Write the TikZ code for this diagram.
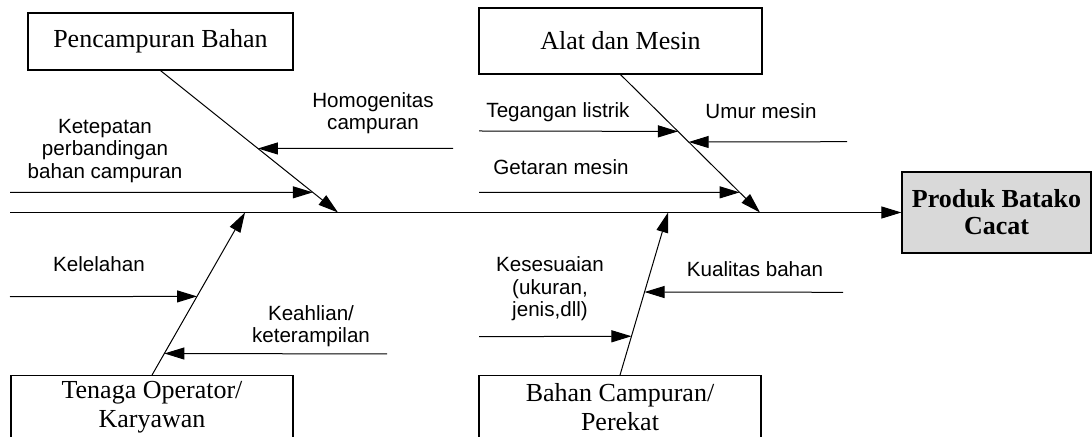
\documentclass[tikz,border=0pt]{standalone}
\usepackage{fontspec}
\setmainfont{Liberation Serif}
\newfontfamily\sanslabel{Liberation Sans}
\usetikzlibrary{calc,arrows.meta}

\tikzset{
  kotak/.style={draw, line width=0.6pt, align=center, inner sep=0pt,
    font=\fontsize{13}{14.5}\selectfont},
  ket/.style={align=center, font=\sanslabel\fontsize{10.3}{11.2}\selectfont},
  panah/.style={-{Triangle[length=10pt,width=6pt]}, line width=0.5pt},
}

\begin{document}
\begin{tikzpicture}[x=0.5pt,y=-0.5pt]
\clip (0,0) rectangle (1092,437);

% Kotak penyebab dan akibat
\node[kotak, minimum width=132.5pt, minimum height=28.5pt] (pb) at (160.5,41.5) {Pencampuran Bahan};
\node[kotak, minimum width=141.5pt, minimum height=33pt] (am) at (620.5,41) {Alat dan Mesin};
\node[kotak, minimum width=141pt, minimum height=31.5pt] (to) at (152,407.2) {Tenaga Operator/\\Karyawan};
\node[kotak, minimum width=141pt, minimum height=31.5pt] (bc) at (620,407.2) {Bahan Campuran/\\Perekat};
\node[kotak, fill=black!15, minimum width=94.5pt, minimum height=40.5pt,
  font=\bfseries\fontsize{13}{13.5}\selectfont] (hasil) at (996.5,212.5) {Produk Batako\\Cacat};

% Tulang utama
\coordinate (spine) at (10,212.5);
\coordinate (s1) at (338,212.5);
\coordinate (s2) at (760,212.5);
\coordinate (s3) at (245,212.5);
\coordinate (s4) at (668,212.5);
\draw[panah] (spine) -- (hasil.west);

% Tulang cabang
\draw[panah] (pb.south) -- (s1);
\draw[panah] (am.south) -- (s2);
\draw[panah] (to.north) -- (s3);
\draw[panah] (bc.north) -- (s4);

% Sebab kecil
\coordinate (k1) at (10,192.3);
\coordinate (k2) at (453,148.3);
\coordinate (k3) at (479,131);
\coordinate (k4) at (847,141.7);
\coordinate (k5) at (479,192.3);
\coordinate (k6) at (10,296.7);
\coordinate (k7) at (387,354);
\coordinate (k8) at (479,336.7);
\coordinate (k9) at (843,292.3);
\draw[panah] (k1) -- ($(pb.south)!0.858!(s1)$);
\draw[panah] (k2) -- ($(pb.south)!0.549!(s1)$);
\draw[panah] (k3) -- ($(am.south)!0.412!(s2)$);
\draw[panah] (k4) -- ($(am.south)!0.489!(s2)$);
\draw[panah] (k5) -- ($(am.south)!0.854!(s2)$);
\draw[panah] (k6) -- ($(to.north)!0.484!(s3)$);
\draw[panah] (k7) -- ($(to.north)!0.133!(s3)$);
\draw[panah] (k8) -- ($(bc.north)!0.239!(s4)$);
\draw[panah] (k9) -- ($(bc.north)!0.511!(s4)$);

% Keterangan
\node[ket] (ketepatan) at (105,151) {Ketepatan\\perbandingan\\bahan campuran};
\node[ket] (homogen) at (373,113) {Homogenitas\\campuran};
\node[ket] (tegangan) at (558,112) {Tegangan listrik};
\node[ket] (umur) at (761,111) {Umur mesin};
\node[ket] (getaran) at (561,167) {Getaran mesin};
\node[ket] (lelah) at (99,264) {Kelelahan};
\node[ket] (ahli) at (311,326) {Keahlian/\\keterampilan};
\node[ket] (sesuai) at (550,289) {Kesesuaian\\(ukuran,\\jenis,dll)};
\node[ket] (kualitas) at (755,269) {Kualitas bahan};

\end{tikzpicture}
\end{document}
